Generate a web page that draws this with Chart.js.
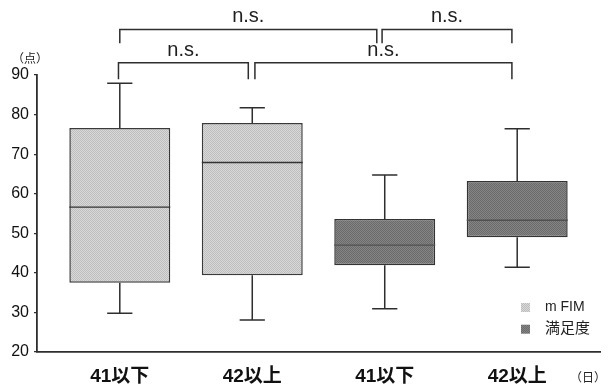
<!DOCTYPE html>
<html>
<head>
<meta charset="utf-8">
<script src="https://cdn.jsdelivr.net/npm/chart.js@4.4.1/dist/chart.umd.min.js"></script>
<style>
  html, body { margin: 0; padding: 0; background: #fff; }
  #wrap { width: 611px; height: 389px; position: relative; }
</style>
</head>
<body>
<div id="wrap"><canvas id="c"></canvas></div>
<script>
// Group labels along the x axis (days since admission)
const groups = ['41以下', '42以上', '41以下', '42以上'];
const seriesNames = ['m FIM', '満足度'];

// m FIM box plot summary (score)
const mfimPos = [1, 2];
const mfimMin = [29.8, 28.1];
const mfimQ1  = [37.5, 39.4];
const mfimMed = [56.6, 67.9];
const mfimQ3  = [76.6, 77.9];
const mfimMax = [87.9, 81.7];

// 満足度 box plot summary (score)
const satPos = [3, 4];
const satMin = [30.9, 41.4];
const satQ1  = [41.9, 49.0];
const satMed = [47.0, 53.3];
const satQ3  = [53.6, 63.2];
const satMax = [64.7, 76.4];

// Y axis range and tick step
const yMin = 20, yMax = 90, yStep = 5;

// Significance brackets (x from / to, bar level, foot level, label)
const brFrom  = [1.00, 2.98, 0.99, 2.02];
const brTo    = [2.94, 3.96, 1.97, 3.96];
const brTop   = [101.5, 101.5, 93.1, 93.1];
const brFoot  = [98.0, 98.0, 88.9, 88.9];
const brText  = ['n.s.', 'n.s.', 'n.s.', 'n.s.'];

const FONT = '"Liberation Sans", Arial, "Noto Sans CJK JP", sans-serif';
const INK = '#2e2e2e';

function stipple(c1, c2) {
  const p = document.createElement('canvas');
  p.width = 2; p.height = 2;
  const g = p.getContext('2d');
  g.fillStyle = c1; g.fillRect(0, 0, 2, 2);
  g.fillStyle = c2; g.fillRect(0, 0, 1, 1); g.fillRect(1, 1, 1, 1);
  return g.createPattern(p, 'repeat');
}
const lightFill = stipple('#d9d9d9', '#bdbdbd');
const darkFill  = stipple('#858585', '#6a6a6a');

const stats = [
  { min: mfimMin, q1: mfimQ1, med: mfimMed, q3: mfimQ3, max: mfimMax, medColor: '#333' },
  { min: satMin,  q1: satQ1,  med: satMed,  q3: satQ3,  max: satMax,  medColor: '#505050' }
];

const boxPlotPlugin = {
  id: 'boxWhiskers',
  afterDatasetsDraw(chart) {
    const ctx = chart.ctx, y = chart.scales.y;
    stats.forEach((s, di) => {
      const meta = chart.getDatasetMeta(di);
      meta.data.forEach((bar, i) => {
        const cx = bar.x, half = bar.width / 2, cap = bar.width * 0.125;
        const pMax = y.getPixelForValue(s.max[i]), pMin = y.getPixelForValue(s.min[i]);
        const pQ1 = y.getPixelForValue(s.q1[i]), pQ3 = y.getPixelForValue(s.q3[i]);
        const pMed = y.getPixelForValue(s.med[i]);
        ctx.save();
        ctx.strokeStyle = INK;
        ctx.lineWidth = 1.5;
        ctx.beginPath();
        ctx.moveTo(cx, pQ3); ctx.lineTo(cx, pMax);
        ctx.moveTo(cx - cap, pMax); ctx.lineTo(cx + cap, pMax);
        ctx.moveTo(cx, pQ1); ctx.lineTo(cx, pMin);
        ctx.moveTo(cx - cap, pMin); ctx.lineTo(cx + cap, pMin);
        ctx.stroke();
        ctx.strokeStyle = s.medColor;
        ctx.lineWidth = 1.4;
        ctx.beginPath();
        ctx.moveTo(cx - half, pMed); ctx.lineTo(cx + half, pMed);
        ctx.stroke();
        ctx.restore();
      });
    });
  },
  afterDraw(chart) {
    const ctx = chart.ctx, x = chart.scales.x, y = chart.scales.y;
    ctx.save();
    // brackets
    ctx.strokeStyle = INK;
    ctx.lineWidth = 1.5;
    ctx.fillStyle = '#1e1e1e';
    ctx.font = '20px ' + FONT;
    ctx.textAlign = 'center';
    ctx.textBaseline = 'alphabetic';
    brFrom.forEach((f, i) => {
      const x1 = x.getPixelForValue(f), x2 = x.getPixelForValue(brTo[i]);
      const yt = y.getPixelForValue(brTop[i]), yf = y.getPixelForValue(brFoot[i]);
      ctx.beginPath();
      ctx.moveTo(x1, yf); ctx.lineTo(x1, yt); ctx.lineTo(x2, yt); ctx.lineTo(x2, yf);
      ctx.stroke();
      ctx.fillText(brText[i], (x1 + x2) / 2, yt - 7);
    });
    // unit labels
    ctx.font = '12px ' + FONT;
    ctx.fillStyle = '#222';
    ctx.textBaseline = 'middle';
    ctx.fillText('（点）', 30, 60);
    ctx.fillText('（日）', 588, 379);
    // legend
    const lx = 521, ly = 303, gap = 21.7;
    chart.data.datasets.forEach((ds, i) => {
      ctx.fillStyle = ds.backgroundColor;
      ctx.fillRect(lx, ly + i * gap, 9, 9);
      ctx.fillStyle = '#222';
      ctx.textAlign = 'left';
      ctx.font = (i === 0 ? '14px ' : '15px ') + FONT;
      ctx.fillText(ds.label, 545, ly + 4.5 + i * gap);
    });
    ctx.restore();
  }
};

new Chart(document.getElementById('c'), {
  type: 'bar',
  data: {
    datasets: [
      {
        label: seriesNames[0],
        data: mfimPos.map((p, i) => ({ x: p, y: [mfimQ1[i], mfimQ3[i]] })),
        backgroundColor: lightFill,
        borderColor: '#3a3a3a',
        borderWidth: 1.5,
        borderSkipped: false,
        grouped: false,
        barPercentage: 0.762,
        categoryPercentage: 1
      },
      {
        label: seriesNames[1],
        data: satPos.map((p, i) => ({ x: p, y: [satQ1[i], satQ3[i]] })),
        backgroundColor: darkFill,
        borderColor: '#333',
        borderWidth: 1.5,
        borderSkipped: false,
        grouped: false,
        barPercentage: 0.762,
        categoryPercentage: 1
      }
    ]
  },
  options: {
    responsive: true,
    maintainAspectRatio: false,
    animation: false,
    events: [],
    layout: { padding: { left: 0, right: 11, top: 75, bottom: 0 } },
    plugins: { legend: { display: false }, tooltip: { enabled: false } },
    scales: {
      x: {
        type: 'linear',
        offset: false,
        min: 0.375,
        max: 4.625,
        afterBuildTicks: (s) => { s.ticks = groups.map((g, i) => ({ value: i + 1 })); },
        afterFit: (s) => { s.height = 37; },
        grid: { display: true, drawOnChartArea: false, drawTicks: false },
        border: { display: true, color: INK, width: 1.8 },
        ticks: {
          autoSkip: false,
          maxRotation: 0,
          padding: 13,
          color: '#111',
          font: { family: FONT, size: 19, weight: 'bold' },
          callback: (v) => groups[Math.round(v) - 1] || ''
        }
      },
      y: {
        min: yMin,
        max: yMax,
        afterFit: (s) => { s.width = 37; },
        grid: { display: true, drawOnChartArea: false, drawTicks: true, tickLength: 3, color: INK, lineWidth: 1.2 },
        border: { display: true, color: INK, width: 1.8 },
        ticks: {
          stepSize: yStep,
          padding: 5,
          color: '#111',
          font: { family: FONT, size: 16 },
          callback: (v) => (v % 10 === 0 ? String(v) : '')
        }
      }
    }
  },
  plugins: [boxPlotPlugin]
});
</script>
</body>
</html>
